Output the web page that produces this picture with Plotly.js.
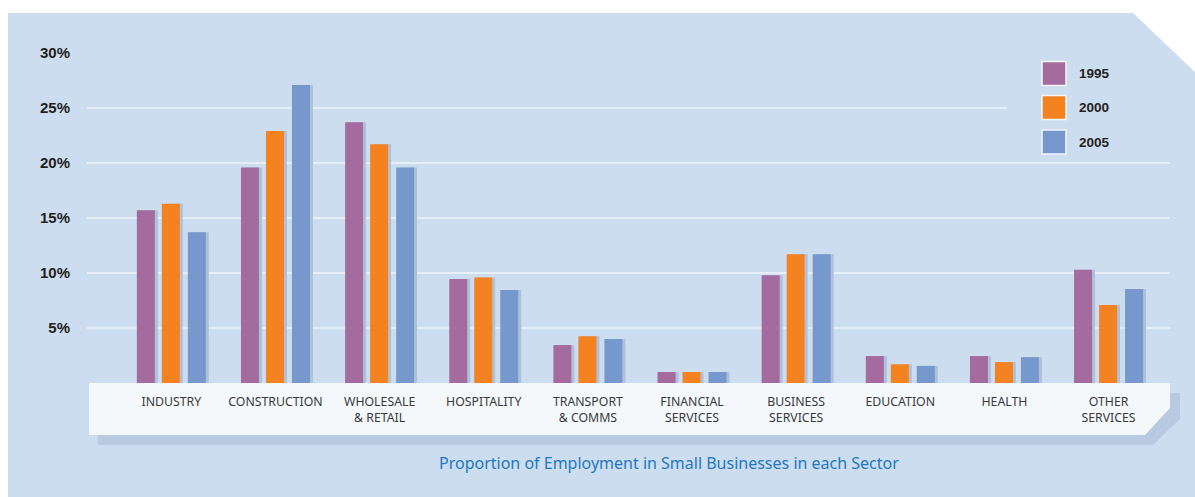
<!DOCTYPE html>
<html>
<head>
<meta charset="utf-8">
<script src="https://cdn.plot.ly/plotly-3.0.1.min.js"></script>
<style>html,body{margin:0;padding:0;background:#fff;}#chart{width:1195px;height:497px;}</style>
</head>
<body>
<div id="chart"></div>
<script>
const categories = ["INDUSTRY","CONSTRUCTION","WHOLESALE<br>& RETAIL","HOSPITALITY","TRANSPORT<br>& COMMS","FINANCIAL<br>SERVICES","BUSINESS<br>SERVICES","EDUCATION","HEALTH","OTHER<br>SERVICES"];
const years = ["1995","2000","2005"];
const v1995 = [15.7, 19.6, 23.7, 9.45, 3.45, 1.0, 9.8, 2.45, 2.45, 10.3];
const v2000 = [16.3, 22.9, 21.7, 9.6, 4.25, 1.0, 11.7, 1.7, 1.9, 7.1];
const v2005 = [13.7, 27.1, 19.6, 8.45, 4.0, 1.0, 11.7, 1.55, 2.35, 8.55];
const yTicks = [5, 10, 15, 20, 25, 30];
const subtitle = "Proportion of Employment in Small Businesses in each Sector";

const series = [v1995, v2000, v2005];
const colors = ["#a46c9e", "#f58220", "#7698cc"];
const shadow = "#afc1da";
const panel = "#ccddef";

// plot area geometry (pixels)
const L = 87, R = 1170, T = 53, B = 383, W = 1195, H = 497;
const xr = [-0.81, 9.59];
const ppu = (R - L) / (xr[1] - xr[0]);
const bw = 18 / ppu;
const offs = [-34.5 / ppu, -9.5 / ppu, 16.5 / ppu];
const sh = 3 / ppu;
const idx = categories.map((c, i) => i);

const px = x => (x - L) / (R - L);
const py = y => (B - y) / (B - T);
const path = pts => pts.map((p, i) => (i ? "L" : "M") + px(p[0]).toFixed(5) + "," + py(p[1]).toFixed(5)).join(" ") + " Z";

const traces = [];
series.forEach((vals, k) => {
  traces.push({type: "bar", x: idx, y: vals, width: bw, offset: offs[k] + sh,
    marker: {color: shadow, line: {width: 0}}, showlegend: false, hoverinfo: "skip"});
});
series.forEach((vals, k) => {
  traces.push({type: "bar", x: idx, y: vals, name: years[k], width: bw, offset: offs[k],
    marker: {color: colors[k], line: {width: 0}}, showlegend: false});
});

const shapes = [
  {type: "path", xref: "paper", yref: "paper", layer: "below", line: {width: 0}, fillcolor: panel,
   path: path([[8, 13], [1133, 13], [1195, 72], [1196, 498], [8, 498]])},
  {type: "path", xref: "paper", yref: "paper", layer: "below", line: {width: 0}, fillcolor: "#b7cae2",
   path: path([[98, 393], [1180, 393], [1180, 419], [1153, 445], [98, 445]])},
  {type: "path", xref: "paper", yref: "paper", layer: "below", line: {width: 0}, fillcolor: "#f4f8fb",
   path: path([[89, 383], [1170, 383], [1170, 408], [1145, 435], [89, 435]])},
  {type: "rect", xref: "paper", yref: "paper", layer: "above", line: {width: 0}, fillcolor: panel,
   x0: px(1007), x1: px(1172), y0: py(112), y1: py(104)}
];
const annotations = [];
const legY = [73.5, 107.5, 142];
years.forEach((yr, k) => {
  shapes.push({type: "rect", xref: "paper", yref: "paper", layer: "above",
    x0: px(1042), x1: px(1066), y0: py(legY[k] + 12), y1: py(legY[k] - 12),
    fillcolor: colors[k], line: {color: "#f2f6fb", width: 1.5}});
  annotations.push({xref: "paper", yref: "paper", x: px(1077), y: py(legY[k]), xanchor: "left", yanchor: "middle",
    text: yr, showarrow: false, font: {family: "Liberation Sans, Arial, sans-serif", size: 13.5, color: "#231f20", weight: "bold"}});
});
annotations.push({xref: "paper", yref: "paper", x: px(669), y: py(463), xanchor: "center", yanchor: "middle",
  text: subtitle, showarrow: false, font: {family: "Noto Sans, sans-serif", size: 16, color: "#1f78bf"}});

const layout = {
  width: W, height: H,
  margin: {l: L, r: W - R, t: T, b: H - B, pad: 0},
  paper_bgcolor: "#ffffff", plot_bgcolor: "rgba(0,0,0,0)",
  barmode: "overlay",
  showlegend: false,
  xaxis: {range: xr, tickvals: idx, ticktext: categories, showgrid: false, zeroline: false, showline: false,
    ticks: "", ticklabelstandoff: 10, tickangle: 0,
    tickfont: {family: "Noto Sans, sans-serif", size: 12.3, color: "#3a3a3a"}},
  yaxis: {range: [0, 30], tickvals: yTicks, ticktext: yTicks.map(v => v + "%"), showgrid: true,
    gridcolor: "#e6eef8", gridwidth: 1.5, zeroline: false, showline: false, ticks: "", ticklabelstandoff: 16,
    tickfont: {family: "Liberation Sans, Arial, sans-serif", size: 15, color: "#231f20", weight: "bold"}},
  shapes: shapes, annotations: annotations
};
Plotly.newPlot("chart", traces, layout, {displayModeBar: false, staticPlot: true});
</script>
</body>
</html>
